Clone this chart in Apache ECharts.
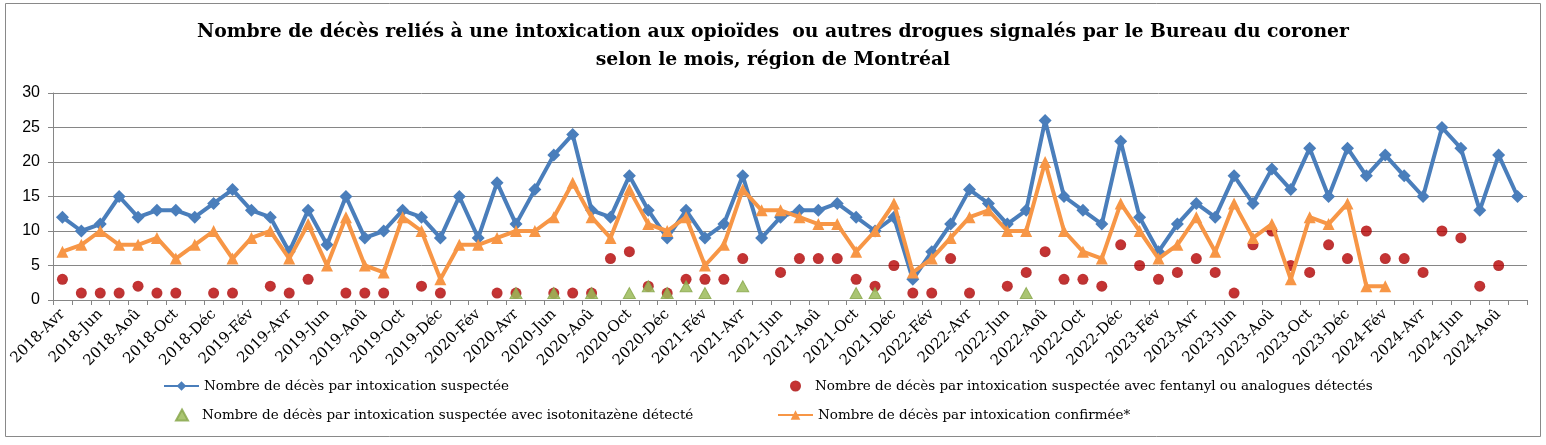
<!DOCTYPE html>
<html>
<head>
<meta charset="utf-8">
<script src="https://cdn.jsdelivr.net/npm/echarts@6/dist/echarts.min.js"></script>
<style>html,body{margin:0;padding:0;background:#fff}#c{width:1546px;height:445px}</style>
</head>
<body>
<div id="c"></div>
<script>
const categories = [
 "2018-Avr","2018-Mai","2018-Jun","2018-Jul","2018-Aoû","2018-Sep","2018-Oct","2018-Nov","2018-Déc",
 "2019-Jan","2019-Fév","2019-Mar","2019-Avr","2019-Mai","2019-Jun","2019-Jul","2019-Aoû","2019-Sep","2019-Oct","2019-Nov","2019-Déc",
 "2020-Jan","2020-Fév","2020-Mar","2020-Avr","2020-Mai","2020-Jun","2020-Jul","2020-Aoû","2020-Sep","2020-Oct","2020-Nov","2020-Déc",
 "2021-Jan","2021-Fév","2021-Mar","2021-Avr","2021-Mai","2021-Jun","2021-Jul","2021-Aoû","2021-Sep","2021-Oct","2021-Nov","2021-Déc",
 "2022-Jan","2022-Fév","2022-Mar","2022-Avr","2022-Mai","2022-Jun","2022-Jul","2022-Aoû","2022-Sep","2022-Oct","2022-Nov","2022-Déc",
 "2023-Jan","2023-Fév","2023-Mar","2023-Avr","2023-Mai","2023-Jun","2023-Jul","2023-Aoû","2023-Sep","2023-Oct","2023-Nov","2023-Déc",
 "2024-Jan","2024-Fév","2024-Mar","2024-Avr","2024-Mai","2024-Jun","2024-Jul","2024-Aoû","2024-Sep"
];
const suspectee = [
 12,10,11,15,12,13,13,12,14,16,13,12,
 7,13,8,15,9,10,13,12,9,15,9,17,
 11,16,21,24,13,12,18,13,9,13,9,11,
 18,9,12,13,13,14,12,10,12,3,7,11,
 16,14,11,13,26,15,13,11,23,12,7,11,
 14,12,18,14,19,16,22,15,22,18,21,18,
 15,25,22,13,21,15
];
const fentanyl = [
 3,1,1,1,2,1,1,null,1,1,null,2,
 1,3,null,1,1,1,null,2,1,null,null,1,
 1,null,1,1,1,6,7,2,1,3,3,3,
 6,null,4,6,6,6,3,2,5,1,1,6,
 1,null,2,4,7,3,3,2,8,5,3,4,
 6,4,1,8,10,5,4,8,6,10,6,6,
 4,10,9,2,5,null
];
const isotonitazene = [
 null,null,null,null,null,null,null,null,null,null,null,null,
 null,null,null,null,null,null,null,null,null,null,null,null,
 1,null,1,null,1,null,1,2,1,2,1,null,
 2,null,null,null,null,null,1,1,null,null,null,null,
 null,null,null,1,null,null,null,null,null,null,null,null,
 null,null,null,null,null,null,null,null,null,null,null,null,
 null,null,null,null,null,null
];
const confirmee = [
 7,8,10,8,8,9,6,8,10,6,9,10,
 6,11,5,12,5,4,12,10,3,8,8,9,
 10,10,12,17,12,9,16,11,10,12,5,8,
 16,13,13,12,11,11,7,10,14,4,6,9,
 12,13,10,10,20,10,7,6,14,10,6,8,
 12,7,14,9,11,3,12,11,14,2,2,null,
 null,null,null,null,null,null
];
const yTicks = {min:0, max:30, interval:5};
const names = [
 "Nombre de décès par intoxication suspectée",
 "Nombre de décès par intoxication suspectée avec fentanyl ou analogues détectés",
 "Nombre de décès par intoxication suspectée avec isotonitazène détecté",
 "Nombre de décès par intoxication confirmée*"
];
const titleLines = [
 "Nombre de décès reliés à une intoxication aux opioïdes  ou autres drogues signalés par le Bureau du coroner",
 "selon le mois, région de Montréal"
];

const serif = "'DejaVu Serif', serif";
const legTxt = {fontFamily: serif, fontSize: 13.5, color: '#000'};
const legTxtPad = {fontFamily: serif, fontSize: 13.5, color: '#000', padding:[0,0,0,9]};
const chart = echarts.init(document.getElementById('c'));
chart.setOption({
  animation: false,
  backgroundColor: '#fff',
  graphic: [{type:'rect', shape:{x:5.5, y:3.5, width:1535, height:433}, style:{fill:'none', stroke:'#898989', lineWidth:1}, silent:true}],
  title: {
    text: titleLines.join('\n'), left: 'center', top: 13,
    textStyle: {fontFamily: "'DejaVu Serif', serif", fontWeight: 'bold', fontSize: 18.8, lineHeight: 28, color: '#000'}
  },
  legend: [
    {data:[names[0]], left:158, top:374, itemWidth:35, itemHeight:12, textStyle:legTxt},
    {data:[names[1]], left:785, top:374, itemWidth:11, itemHeight:11, textStyle:legTxtPad},
    {data:[names[2]], left:170, top:403, itemWidth:12, itemHeight:11, textStyle:legTxtPad},
    {data:[names[3]], left:772, top:403, itemWidth:35, itemHeight:12, textStyle:legTxt}
  ],
  grid: {left:53, right:19, top:93, bottom:145},
  xAxis: {
    type:'category', data: categories, boundaryGap: true,
    axisLine: {lineStyle:{color:'#868686', width:1}},
    axisTick: {show:true, interval:0, length:5, lineStyle:{color:'#868686'}},
    axisLabel: {interval:1, rotate:45, fontFamily: serif, fontSize:15, color:'#000', margin:12}
  },
  yAxis: {
    type:'value', min:yTicks.min, max:yTicks.max, interval:yTicks.interval,
    axisLine: {show:true, lineStyle:{color:'#868686'}},
    axisTick: {show:true, length:5, lineStyle:{color:'#868686'}},
    splitLine: {lineStyle:{color:'#868686', width:1}},
    axisLabel: {fontFamily:"'Liberation Sans', Arial, sans-serif", fontSize:16, color:'#000', margin:13}
  },
  series: [
    {name:names[0], type:'line', data:suspectee, symbol:'diamond', symbolSize:13, showAllSymbol:true,
     lineStyle:{color:'#4A7EBB', width:4}, itemStyle:{color:'#4A7EBB'}, z:2},
    {name:names[1], type:'scatter', data:fentanyl, symbol:'circle', symbolSize:11,
     itemStyle:{color:{type:'radial', x:0.45, y:0.4, r:0.6, colorStops:[{offset:0,color:'#C00000'},{offset:1,color:'#A50000'}]}}, z:3},
    {name:names[2], type:'scatter', data:isotonitazene, symbol:'triangle', symbolSize:[12,11],
     itemStyle:{color:'#9BBB59', borderColor:'#8AA84E', borderWidth:1, opacity:0.85}, z:4},
    {name:names[3], type:'line', data:confirmee, symbol:'triangle', symbolSize:12, showAllSymbol:true, connectNulls:false,
     lineStyle:{color:'#F79646', width:4}, itemStyle:{color:'#F79646'}, z:5}
  ]
});
</script>
</body>
</html>
